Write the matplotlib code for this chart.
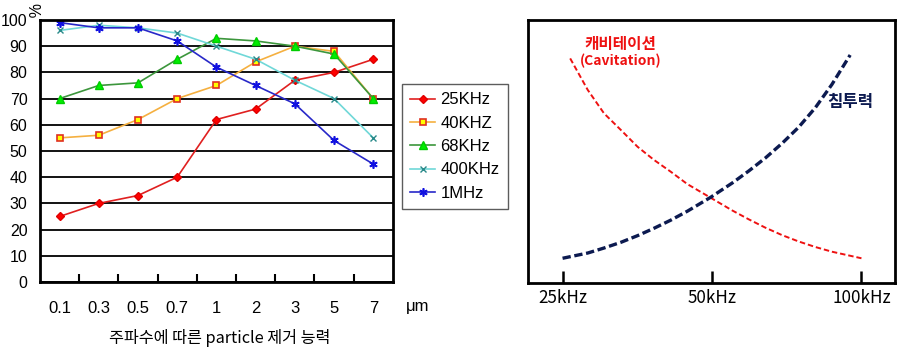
import matplotlib.pyplot as plt
from matplotlib.ticker import FixedLocator, NullFormatter

plt.rcParams['font.family'] = ['Liberation Sans', 'Noto Sans CJK KR', 'DejaVu Sans']

# ---------------- left chart data ----------------
sizes = ['0.1', '0.3', '0.5', '0.7', '1', '2', '3', '5', '7']
khz25 = [25, 30, 33, 40, 62, 66, 77, 80, 85]
khz40 = [55, 56, 62, 70, 75, 84, 90, 88, 70]
khz68 = [70, 75, 76, 85, 93, 92, 90, 87, 70]
khz400 = [96, 98, 97, 95, 90, 85, 77, 70, 55]
mhz1 = [99, 97, 97, 92, 82, 75, 68, 54, 45]

# ---------------- right chart data ----------------
freq_ticks = [25, 50, 100]
freq_labels = ['25kHz', '50kHz', '100kHz']
cav_f = [25.9, 28.1, 30.3, 32.8, 35.4, 38.2, 41.3, 44.6, 49.7, 54.9, 59.3,
         64.1, 69.2, 74.7, 80.7, 87.2, 100]
cav_v = [85.4, 73.4, 64.5, 58.1, 51.8, 46.8, 42.3, 37.6, 32.4, 27.6, 24.2,
         21.0, 18.2, 15.8, 13.7, 11.9, 9.4]
pen_f = [25.0, 28.1, 30.3, 32.8, 35.4, 38.2, 41.3, 44.6, 49.7, 54.9, 59.3,
         64.1, 69.2, 74.7, 80.7, 87.2, 94.9]
pen_v = [9.4, 11.4, 13.3, 15.5, 18.0, 20.8, 23.9, 27.3, 32.6, 38.0, 42.6,
         47.6, 53.1, 59.2, 66.6, 75.5, 86.7]

fig = plt.figure(figsize=(8.98, 3.48), dpi=100)

#-------------------------------------------------------------------
#                       LEFT: particle removal
#-------------------------------------------------------------------
ax = fig.add_axes([0.0445, 0.1897, 0.393, 0.7529])
x = list(range(len(sizes)))
ax.plot(x, khz25, color='#e02020', lw=1.2, marker='D', ms=4,
        mfc='#ff0000', mec='#e00000', label='25KHz')
ax.plot(x, khz40, color='#f5b040', lw=1.2, marker='s', ms=5,
        mfc='#ffff00', mec='#e03020', mew=1.2, label='40KHZ')
ax.plot(x, khz68, color='#3c963c', lw=1.2, marker='^', ms=6,
        mfc='#00ee00', mec='#00cc00', label='68KHz')
ax.plot(x, khz400, color='#70d8d8', lw=1.2, marker='x', ms=5,
        mec='#2a8a8a', mew=1.0, label='400KHz')
ax.plot(x, mhz1, color='#2828c8', lw=1.2, marker=(6, 2, 0), ms=6,
        mec='#1010e0', mew=1.2, label='1MHz')

ax.set_xlim(-0.5, 8.5)
ax.set_ylim(0, 100)
ax.set_yticks(range(0, 101, 10))
ax.set_xticks(x)
ax.set_xticklabels(sizes, fontsize=12)
ax.xaxis.set_minor_locator(FixedLocator([i + 0.5 for i in range(8)]))
ax.xaxis.set_minor_formatter(NullFormatter())
ax.tick_params(axis='x', which='major', length=0, pad=14)
ax.tick_params(axis='x', which='minor', direction='in', length=6, width=1.5)
ax.tick_params(axis='y', length=0, pad=9, labelsize=11.5)
ax.grid(axis='y', color='black', lw=1.3)
ax.set_axisbelow(True)
for s in ax.spines.values():
    s.set_linewidth(2)

fig.text(0.036, 0.972, '%', fontsize=11.5, rotation=-90, ha='center', va='center')
fig.text(0.465, 0.12, 'μm', fontsize=12, ha='center', va='center')
fig.text(0.245, 0.03, '주파수에 따른 particle 제거 능력', fontsize=11.7,
         family=['Noto Sans CJK KR'], ha='center', va='center')

ax.legend(loc='upper left', bbox_to_anchor=(0.4477, 0.7586),
          bbox_transform=fig.transFigure, fontsize=12, frameon=True,
          fancybox=False, edgecolor='#333333', handlelength=1.5,
          handletextpad=0.3, labelspacing=0.5, borderpad=0.5,
          borderaxespad=0)

#-------------------------------------------------------------------
#                       RIGHT: cavitation vs penetration
#-------------------------------------------------------------------
ax2 = fig.add_axes([0.588, 0.1868, 0.409, 0.7557])
ax2.set_xscale('log', base=2)
ax2.plot(cav_f, cav_v, color='#ee1111', lw=1.4, dashes=(2.8, 1.5))
ax2.plot(pen_f, pen_v, color='#0c1a50', lw=2.4, dashes=(2.5, 1.1))
ax2.set_xlim(21.3, 117)
ax2.set_ylim(0, 100)
ax2.xaxis.set_major_locator(FixedLocator(freq_ticks))
ax2.xaxis.set_minor_locator(FixedLocator([]))
ax2.set_xticklabels(freq_labels, family=['Noto Sans CJK KR'], fontsize=12.3)
ax2.set_yticks([])
ax2.tick_params(axis='x', direction='in', length=9, width=1.8, pad=4)
for s in ax2.spines.values():
    s.set_linewidth(2)

fig.text(620 / 898, 1 - 44 / 348, '캐비테이션', color='#ee1111', fontsize=11.3,
         weight='bold', family=['Noto Sans CJK KR'], ha='center', va='center')
fig.text(621 / 898, 1 - 61 / 348, '(Cavitation)', color='#ee1111', fontsize=10,
         weight='bold', family=['Noto Sans CJK KR'], ha='center', va='center')
fig.text(850 / 898, 1 - 102 / 348, '침투력', color='#0c1a50', fontsize=12,
         weight='bold', family=['Noto Sans CJK KR'], ha='center', va='center')

fig.savefig('out.png', dpi=100)
